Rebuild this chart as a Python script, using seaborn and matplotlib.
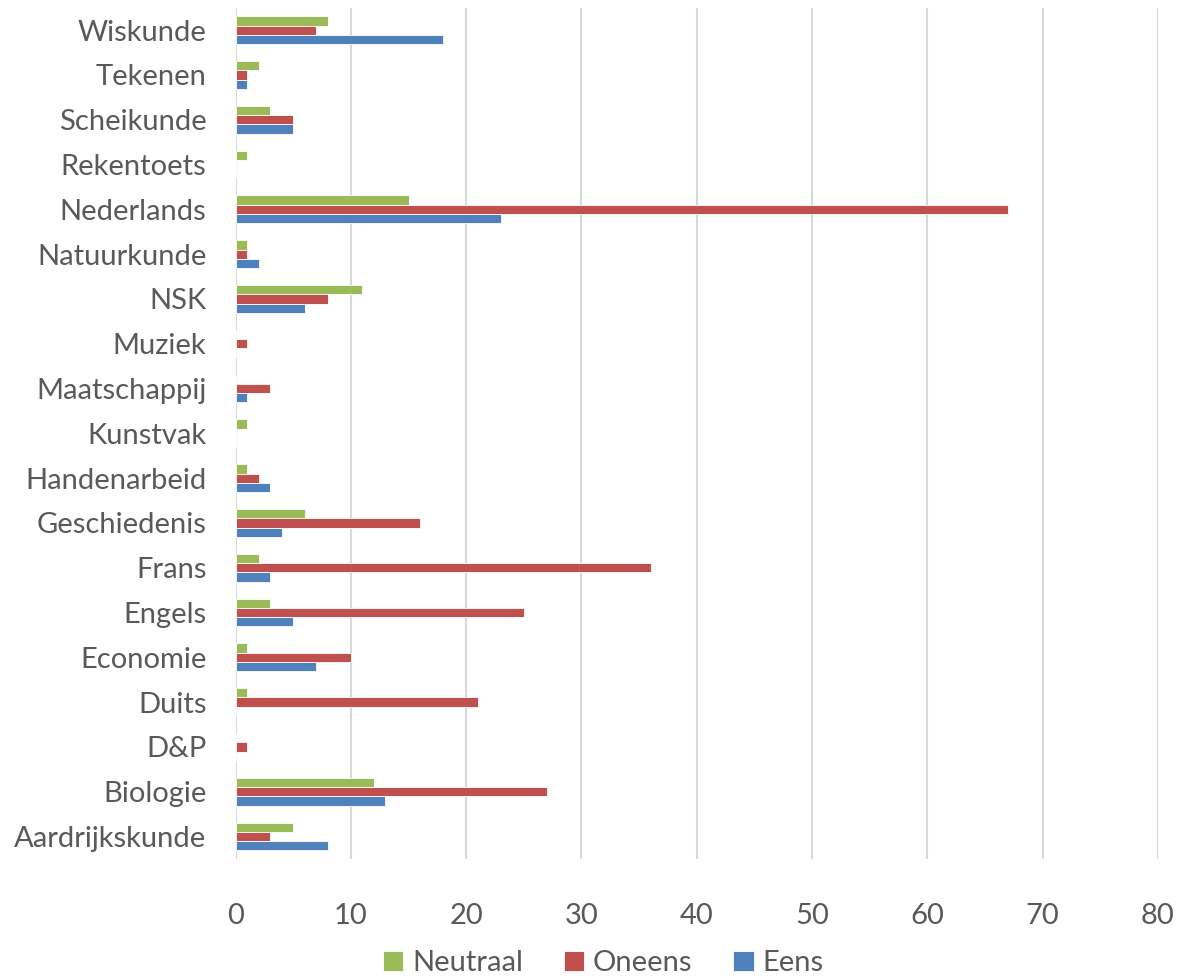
import pandas as pd
import matplotlib.pyplot as plt
import seaborn as sns

vakken = ["Wiskunde", "Tekenen", "Scheikunde", "Rekentoets", "Nederlands",
          "Natuurkunde", "NSK", "Muziek", "Maatschappij", "Kunstvak",
          "Handenarbeid", "Geschiedenis", "Frans", "Engels", "Economie",
          "Duits", "D&P", "Biologie", "Aardrijkskunde"]
neutraal = [8, 2, 3, 1, 15, 1, 11, 0, 0, 1, 1, 6, 2, 3, 1, 1, 0, 12, 5]
oneens = [7, 1, 5, 0, 67, 1, 8, 1, 3, 0, 2, 16, 36, 25, 10, 21, 1, 27, 3]
eens = [18, 1, 5, 0, 23, 2, 6, 0, 1, 0, 3, 4, 3, 5, 7, 0, 0, 13, 8]
reeksen = ["Neutraal", "Oneens", "Eens"]
kleuren = ["#9BBB59", "#C0504D", "#4F81BD"]

df = pd.DataFrame({"Vak": vakken, "Neutraal": neutraal, "Oneens": oneens, "Eens": eens})
df = df.melt(id_vars="Vak", var_name="Reeks", value_name="Aantal")

sns.set_style("white")
plt.rcParams["font.family"] = ["Lato", "DejaVu Sans"]
tekst = "#595959"

fig, ax = plt.subplots(figsize=(11.78, 9.76), dpi=100)
fig.subplots_adjust(left=0.2, right=0.983, top=0.992, bottom=0.12)

sns.barplot(data=df, y="Vak", x="Aantal", hue="Reeks", order=vakken,
            hue_order=reeksen, palette=kleuren, orient="h", width=0.62,
            saturation=1, edgecolor="white", linewidth=0.6, ax=ax)

ax.set_xlim(0, 80)
ax.set_ylim(len(vakken) - 0.5, -0.5)
ax.set_xticks(range(0, 81, 10))
ax.xaxis.grid(True, color="#D9D9D9", linewidth=1.5)
ax.set_axisbelow(True)
for s in ["top", "right", "bottom", "left"]:
    ax.spines[s].set_visible(False)
ax.set_xlabel("")
ax.set_ylabel("")
ax.tick_params(axis="both", length=0, labelsize=21, colors=tekst)
ax.tick_params(axis="y", pad=21)
ax.tick_params(axis="x", pad=32)

handles, labels = ax.get_legend_handles_labels()
ax.get_legend().remove()
fig.legend(handles, labels, loc="center", bbox_to_anchor=(0.512, 0.013), ncol=3,
           frameon=False, fontsize=21, labelcolor=tekst, handlelength=0.7,
           handleheight=0.7, handletextpad=0.3, columnspacing=1.4,
           borderpad=0.1)

fig.savefig("out.png", dpi=100)
